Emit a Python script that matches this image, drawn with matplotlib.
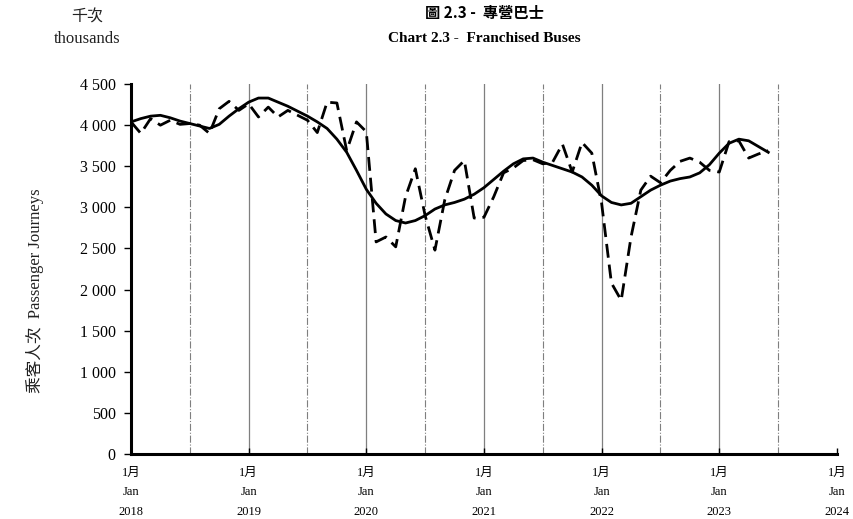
import matplotlib
matplotlib.use("Agg")
import matplotlib.pyplot as plt
import numpy as np

# monthly passenger journeys ('000), Jan 2018 onwards
years = ["2018", "2019", "2020", "2021", "2022", "2023", "2024"]

actual = [4040, 3900, 4080, 4000, 4060, 4010, 4020, 4000, 3900, 4200, 4290, 4180,
          4260, 4100, 4220, 4100, 4180, 4120, 4060, 3910, 4280, 4270, 3690, 4040,
          3920, 2580, 2640, 2520, 3130, 3470, 2900, 2480, 3090, 3450, 3570, 2870,
          2880, 3130, 3420, 3480, 3570, 3580, 3530, 3550, 3770, 3430, 3790, 3660,
          3050, 2080, 1870, 2640, 3210, 3380, 3300, 3450, 3560, 3600, 3550, 3450,
          3430, 3800, 3810, 3600, 3650, 3690]

trend = [4040, 4080, 4110, 4120, 4090, 4050, 4020, 3990, 3960, 4010, 4110, 4200,
         4280, 4330, 4330, 4280, 4230, 4170, 4110, 4040, 3960, 3830, 3670, 3450,
         3220, 3050, 2920, 2840, 2810, 2840, 2900, 2980, 3030, 3060, 3100, 3160,
         3240, 3340, 3440, 3530, 3590, 3600, 3550, 3510, 3470, 3430, 3370, 3270,
         3140, 3060, 3030, 3050, 3130, 3210, 3270, 3320, 3350, 3370, 3420, 3520,
         3660, 3780, 3830, 3810, 3740, 3670]

yticks = [0, 500, 1000, 1500, 2000, 2500, 3000, 3500, 4000, 4500]

serif = ["Liberation Serif", "Noto Sans CJK TC"]
cjk = ["Noto Sans CJK TC", "Liberation Serif"]


def makePlot():
    plt.rcParams["font.family"] = serif
    fig = plt.figure(figsize=(8.54, 5.19), dpi=100)
    ax = fig.add_axes([0.1534, 0.1252, 0.8266, 0.7128])

    months = np.arange(len(actual))

    # vertical guides: solid at January, dash-dot at July
    for k in range(1, 6):
        ax.axvline(12 * k, color="#7f7f7f", lw=0.9, zorder=1)
    for k in range(6):
        ax.axvline(12 * k + 6, color="#7f7f7f", lw=0.8, ls="-.", zorder=1)

    ax.plot(months, trend, color="black", lw=2.0, zorder=3)
    ax.plot(months, actual, color="black", lw=2.0, dashes=(5, 2.5), zorder=3)

    ax.set_xlim(0, 72)
    ax.set_ylim(0, 4500)
    ax.set_yticks(yticks)
    ax.set_yticklabels([("{:,}".format(v)).replace(",", " ") for v in yticks],
                       fontsize=11.5)
    ax.set_xticks([12 * k for k in range(len(years))])
    ax.set_xticklabels(["1月\nJan\n" + y for y in years], fontsize=9,
                       linespacing=1.85)
    ax.tick_params(axis="y", direction="out", length=5, width=1, pad=6)
    ax.tick_params(axis="x", direction="in", length=4, width=1, pad=9)

    for s in ["top", "right"]:
        ax.spines[s].set_visible(False)
    for s in ["left", "bottom"]:
        ax.spines[s].set_linewidth(2.2)

    fig.text(0.041, 0.44, "乘客人次  Passenger Journeys", rotation=90,
             ha="center", va="center", fontsize=12, family=serif,
             color="#222222")
    fig.text(0.102, 0.968, "千次", ha="center", va="center", fontsize=11.5,
             family=cjk, color="#222222")
    fig.text(0.102, 0.925, "thousands", ha="center", va="center", fontsize=12,
             family=serif, color="#222222")
    fig.text(0.567, 0.974, "圖 2.3 -  專營巴士", ha="center", va="center",
             fontsize=11, fontweight="bold", family=cjk)
    fig.text(0.567, 0.926, "Chart 2.3 -  Franchised Buses", ha="center",
             va="center", fontsize=11, fontweight="bold", family=serif)

    fig.savefig("out.png", dpi=100)


if __name__ == "__main__":
    makePlot()
